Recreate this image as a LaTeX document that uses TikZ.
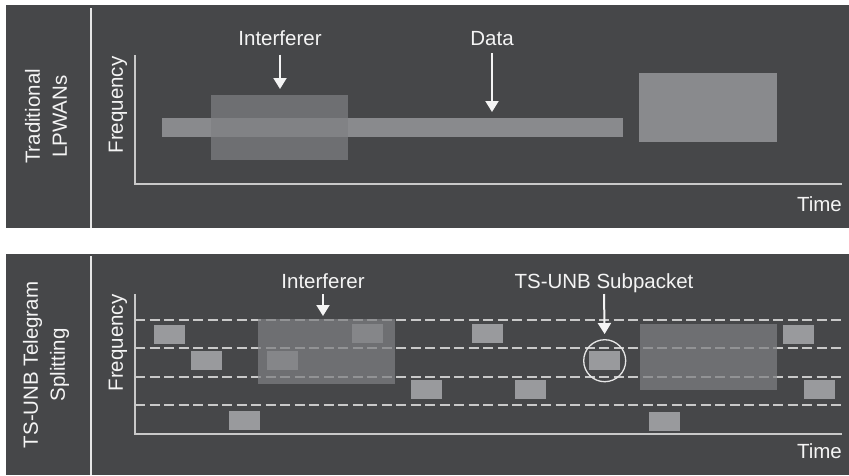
\documentclass[tikz,border=0pt]{standalone}
\usepackage{fontspec}
\setmainfont{Liberation Sans}
\usepackage{xcolor}
\usepackage{tikz}
\usetikzlibrary{positioning}
\usetikzlibrary{arrows.meta}

\definecolor{panelgray}{HTML}{464749}
\definecolor{rulewhite}{HTML}{E6E6E6}
\definecolor{axisgray}{HTML}{C9C9C9}
\definecolor{labelwhite}{HTML}{F4F4F4}
\definecolor{bargray}{HTML}{898A8D}
\definecolor{packetgray}{HTML}{999A9D}
\definecolor{jamgray}{HTML}{7E7F82}

\begin{document}
\begin{tikzpicture}[
		x=1pt, y=-1pt,
		panel/.style={fill=panelgray, draw=none},
		divider/.style={draw=rulewhite, line width=2pt},
		axis/.style={draw=axisgray, line width=1.5pt},
		lane/.style={draw=axisgray, line width=1.3pt, dash pattern=on 10pt off 4.5pt},
		txt/.style={text=labelwhite, font=\fontsize{20.5}{27}\selectfont, inner sep=0pt},
		bar/.style={rectangle, fill=bargray, anchor=north west, inner sep=0pt},
		burst/.style={rectangle, fill=packetgray, anchor=north west, inner sep=0pt, minimum width=31pt, minimum height=19pt},
		jam/.style={rectangle, fill=jamgray, fill opacity=0.72, anchor=north west, inner sep=0pt},
		ring/.style={circle, draw=rulewhite, line width=1.3pt, minimum size=42pt, inner sep=0pt},
		pointer/.style={draw=labelwhite, line width=2pt, -{Triangle[width=13pt,length=11pt]}}
		]
		
		\fill[white] (0,0) rectangle (849,475);
		\useasboundingbox (0,0) rectangle (849,475);
		
		% Panels
		\fill[panel] (6,5) rectangle (849,228);
		\fill[panel] (6,254) rectangle (849,475);
		\draw[divider] (91,8) -- (91,228);
		\draw[divider] (91,256) -- (91,475);
		
		% Row titles
		\node[txt, rotate=90, align=center] (rowtop) at (46,116.5) {Traditional\\LPWANs};
		\node[txt, rotate=90, align=center] (rowbot) at (46,365) {TS-UNB Telegram\\Splitting};
		
		% Axes (top)
		\draw[axis] (135,55) -- (135,184) -- (842,184);
		\node[txt, rotate=90] (freqA) at (118,105) {Frequency};
		\node[txt, anchor=base east] (timeA) at (842,211) {Time};
		
		% Axes (bottom)
		\draw[axis] (135,294) -- (135,434) -- (842,434);
		\node[txt, rotate=90] (freqB) at (118,343) {Frequency};
		\node[txt, anchor=base east] (timeB) at (842,458) {Time};
		
		% Frequency lanes
		\draw[lane] (135,320) -- (842,320);
		\draw[lane] (135,348) -- (842,348);
		\draw[lane] (135,377) -- (842,377);
		\draw[lane] (135,405) -- (842,405);
		
		% Traditional transmission
		\node[bar, minimum width=461pt, minimum height=19pt] (databar) at (162,118) {};
		\node[bar, minimum width=138pt, minimum height=69pt] (block) at (639,73) {};
		\node[jam, minimum width=137pt, minimum height=65pt] (jamA) at (211,95) {};
		
		% Subpackets
		\node[burst] (sp1) at (154,325) {};
		\node[burst] (sp2) at (191,351) {};
		\node[burst] (sp3) at (229,411) {};
		\node[burst] (sp4) at (267,351) {};
		\node[burst] (sp5) at (352,324) {};
		\node[burst] (sp6) at (411,380) {};
		\node[burst] (sp7) at (472,324) {};
		\node[burst] (sp8) at (515,380) {};
		\node[burst] (sp9) at (589,351) {};
		\node[burst] (sp10) at (649,412) {};
		\node[burst] (sp11) at (783,325) {};
		\node[burst] (sp12) at (804,380) {};
		\node[jam, minimum width=137pt, minimum height=65pt] (jamB) at (258,319) {};
		\node[jam, minimum width=137pt, minimum height=66pt] (jamC) at (640,324) {};
		\node[ring] (mark) at (sp9.center) {};
		
		% Labels
		\node[txt, anchor=base] (intA) at (280,45.5) {Interferer};
		\node[txt, anchor=base] (datalbl) at (492,45) {Data};
		\node[txt, anchor=base] (intB) at (323,288) {Interferer};
		\node[txt, anchor=base] (sublbl) at (604,288) {TS-UNB Subpacket};
		
		\draw[pointer, shorten >=6pt] ([yshift=-9pt]intA.base) -- (intA.base |- jamA.north);
		\draw[pointer, shorten >=6pt] ([yshift=-8pt]datalbl.base) -- (datalbl.base |- databar.north);
		\draw[pointer, shorten >=3pt] ([yshift=-6pt]intB.base) -- (intB.base |- jamB.north);
		\draw[pointer, shorten >=5pt] ([yshift=-6pt]sublbl.base) -- (mark.north);
		
	\end{tikzpicture}
\end{document}
